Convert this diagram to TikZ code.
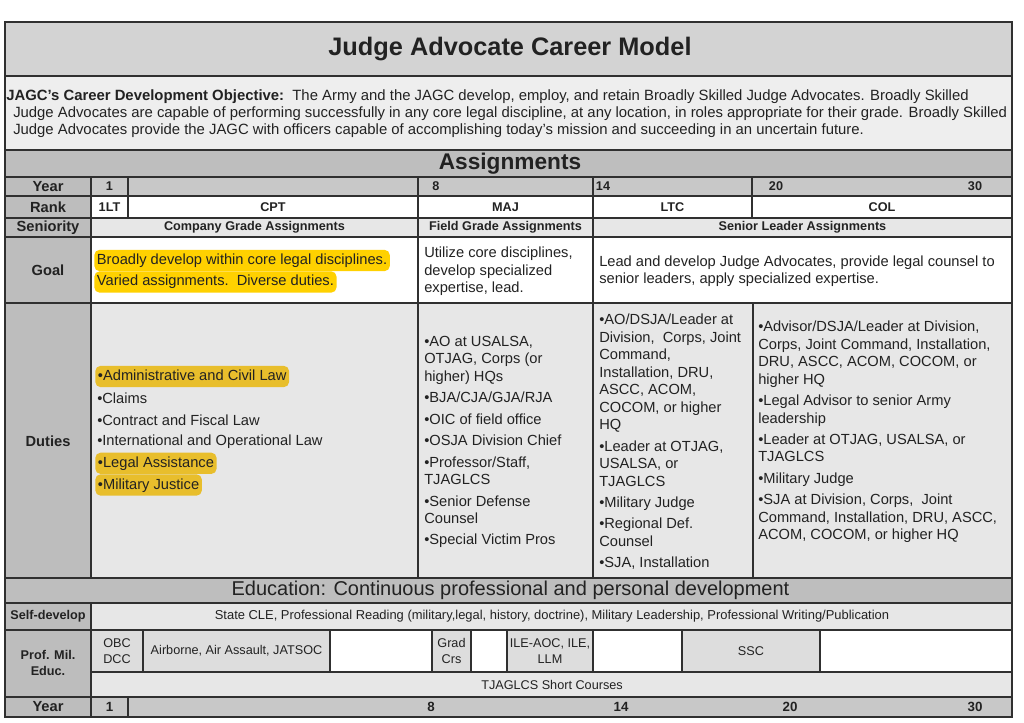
\documentclass[tikz,border=0pt]{standalone}
\usepackage{fontspec}
\setmainfont{Liberation Sans}
\definecolor{lineC}{HTML}{303030}
\definecolor{txtC}{HTML}{222222}
\definecolor{titleC}{HTML}{D3D3D3}
\definecolor{objC}{HTML}{EEEEEE}
\definecolor{bandC}{HTML}{BEBEBE}
\definecolor{labC}{HTML}{BDBDBD}
\definecolor{yrC}{HTML}{C8C8C8}
\definecolor{lightC}{HTML}{E7E7E7}
\definecolor{pmeC}{HTML}{DDDDDD}
\definecolor{hiA}{HTML}{FFD100}
\definecolor{hiB}{HTML}{E8BE2C}
\newcommand{\jcell}[5]{\path[gridline,fill=#5] (#1,#2) rectangle (#3,#4);}
\begin{document}
\begin{tikzpicture}[x=0.75pt,y=-0.75pt,
  gridline/.style={line width=1.4pt,draw=lineC},
  every node/.style={text=txtC,inner sep=0pt},
  lbl/.style={font=\fontsize{11}{13}\selectfont\bfseries},
  small/.style={font=\fontsize{9.5}{11.5}\selectfont\bfseries},
  body/.style={font=\fontsize{11}{13.1}\selectfont},
  bodyL/.style={body,anchor=west,align=left},
  obj/.style={font=\fontsize{11.15}{12.5}\selectfont,anchor=west},
  pme/.style={font=\fontsize{9.5}{11.5}\selectfont,align=center},
  hlA/.style={body,anchor=west,fill=hiA,rounded corners=4pt,inner xsep=2pt,inner ysep=2.5pt,text height=8.5pt,text depth=2.5pt},
  hlB/.style={hlA,fill=hiB}]
\useasboundingbox (0,0) rectangle (1024,723);
% bands
\jcell{5}{22}{1012}{76}{titleC}
\jcell{5}{76}{1012}{150}{objC}
\jcell{5}{150}{1012}{177}{bandC}
% year row
\jcell{5}{177}{91}{196}{labC}
\jcell{91}{177}{128}{196}{yrC}
\jcell{128}{177}{418}{196}{yrC}
\jcell{418}{177}{593}{196}{yrC}
\jcell{593}{177}{752}{196}{yrC}
\jcell{752}{177}{1012}{196}{yrC}
% rank row
\jcell{5}{196}{91}{218}{labC}
\jcell{91}{196}{128}{218}{white}
\jcell{128}{196}{418}{218}{white}
\jcell{418}{196}{593}{218}{white}
\jcell{593}{196}{752}{218}{white}
\jcell{752}{196}{1012}{218}{white}
% seniority
\jcell{5}{218}{91}{237}{labC}
\jcell{91}{218}{418}{237}{lightC}
\jcell{418}{218}{593}{237}{lightC}
\jcell{593}{218}{1012}{237}{lightC}
% goal
\jcell{5}{237}{91}{303}{labC}
\jcell{91}{237}{418}{303}{white}
\jcell{418}{237}{593}{303}{white}
\jcell{593}{237}{1012}{303}{white}
% duties
\jcell{5}{303}{91}{578}{labC}
\jcell{91}{303}{418}{578}{lightC}
\jcell{418}{303}{593}{578}{lightC}
\jcell{593}{303}{753}{578}{lightC}
\jcell{753}{303}{1012}{578}{lightC}
% education
\jcell{5}{578}{1012}{603}{bandC}
\jcell{5}{603}{91}{630}{labC}
\jcell{91}{603}{1012}{630}{lightC}
\jcell{5}{630}{91}{697}{labC}
\jcell{91}{630}{143}{672}{pmeC}
\jcell{143}{630}{330}{672}{pmeC}
\jcell{330}{630}{432}{672}{white}
\jcell{432}{630}{471}{672}{pmeC}
\jcell{471}{630}{507}{672}{white}
\jcell{507}{630}{593}{672}{pmeC}
\jcell{593}{630}{682}{672}{white}
\jcell{682}{630}{820}{672}{pmeC}
\jcell{820}{630}{1012}{672}{white}
\jcell{91}{672}{1012}{697}{lightC}
% bottom year
\jcell{5}{697}{91}{717}{labC}
\jcell{91}{697}{128}{717}{yrC}
\jcell{128}{697}{1012}{717}{yrC}
\draw[line width=1.8pt,draw=lineC] (5,22) rectangle (1012,717);

% title and objective
\node[font=\fontsize{19}{22}\selectfont\bfseries] (title) at (510,49) {Judge Advocate Career Model};
\node[obj] (obj1) at (6,97) {\textbf{JAGC’s Career Development Objective:}\ \ The Army and the JAGC develop, employ, and retain Broadly Skilled Judge Advocates. Broadly Skilled};
\node[obj] (obj2) at (13,114) {Judge Advocates are capable of performing successfully in any core legal discipline, at any location, in roles appropriate for their grade. Broadly Skilled};
\node[obj] (obj3) at (13,131) {Judge Advocates provide the JAGC with officers capable of accomplishing today’s mission and succeeding in an uncertain future.};
\node[font=\fontsize{17}{20}\selectfont\bfseries] (assign) at (510,164) {Assignments};

% year row top
\node[lbl] (yearT) at (48,186.5) {Year};
\node[small] (y1T) at (109.5,186.5) {1};
\node[small] (y8T) at (436,186.5) {8};
\node[small] (y14T) at (603,186.5) {14};
\node[small] (y20T) at (776,186.5) {20};
\node[small] (y30T) at (975,186.5) {30};
% rank
\node[lbl] (rank) at (48,207) {Rank};
\node[small] (r1) at (109.5,207) {1LT};
\node[small] (r2) at (273,207) {CPT};
\node[small] (r3) at (505.5,207) {MAJ};
\node[small] (r4) at (672.5,207) {LTC};
\node[small] (r5) at (882,207) {COL};
% seniority
\node[lbl] (sen) at (48,227.5) {Seniority};
\node[small] (s1) at (254.5,227.5) {Company Grade Assignments};
\node[small] (s2) at (505.5,227.5) {Field Grade Assignments};
\node[small] (s3) at (802.5,227.5) {Senior Leader Assignments};
% goal
\node[lbl] (goal) at (48,270) {Goal};
\node[hlA] (g1a) at (94,260.5) {Broadly develop within core legal disciplines.};
\node[hlA] (g1b) at (94,282) {Varied assignments.\ \ Diverse duties.};
\node[bodyL] (g2) at (424,271.5) {Utilize core disciplines,\\develop specialized\\expertise, lead.};
\node[bodyL] (g3) at (599,271) {Lead and develop Judge Advocates, provide legal counsel to\\senior leaders, apply specialized expertise.};
% duties
\node[lbl] (duties) at (48,441) {Duties};
\node[hlB] (d1a) at (95,376.5) {•Administrative and Civil Law};
\node[bodyL] (d1b) at (97,398.3) {•Claims};
\node[bodyL] (d1c) at (97,420) {•Contract and Fiscal Law};
\node[bodyL] (d1d) at (97,441.7) {•International and Operational Law};
\node[hlB] (d1e) at (95,463.3) {•Legal Assistance};
\node[hlB] (d1f) at (95,485) {•Military Justice};
\node[bodyL] (d2) at (424,442) {•AO at USALSA,\\OTJAG, Corps (or\\higher) HQs\\[3pt]•BJA/CJA/GJA/RJA\\[3pt]•OIC of field office\\[3pt]•OSJA Division Chief\\[3pt]•Professor/Staff,\\TJAGLCS\\[3pt]•Senior Defense\\Counsel\\[3pt]•Special Victim Pros};
\node[bodyL] (d3) at (599,442) {•AO/DSJA/Leader at\\Division,\ \ Corps, Joint\\Command,\\Installation, DRU,\\ASCC, ACOM,\\COCOM, or higher\\HQ\\[3pt]•Leader at OTJAG,\\USALSA, or\\TJAGLCS\\[3pt]•Military Judge\\[3pt]•Regional Def.\\Counsel\\[3pt]•SJA, Installation};
\node[bodyL] (d4) at (758,432) {•Advisor/DSJA/Leader at Division,\\Corps, Joint Command, Installation,\\DRU, ASCC, ACOM, COCOM, or\\higher HQ\\[3pt]•Legal Advisor to senior Army\\leadership\\[3pt]•Leader at OTJAG, USALSA, or\\TJAGLCS\\[3pt]•Military Judge\\[3pt]•SJA at Division, Corps,\ \ Joint\\Command, Installation, DRU, ASCC,\\ACOM, COCOM, or higher HQ};
% education
\node[font=\fontsize{15}{17}\selectfont] (edu) at (510.5,590.5) {Education: Continuous professional and personal development};
\node[small] (selfL) at (48,616.5) {Self-develop};
\node[font=\fontsize{9.7}{11}\selectfont] (selfT) at (552,616.5) {State CLE, Professional Reading (military,legal, history, doctrine), Military Leadership, Professional Writing/Publication};
\node[small,align=center] (pmeL) at (48,663) {Prof. Mil.\\Educ.};
\node[pme] (p1) at (117,651) {OBC\\DCC};
\node[pme] (p2) at (236.5,651) {Airborne, Air Assault, JATSOC};
\node[pme] (p3) at (451.5,651) {Grad\\Crs};
\node[pme] (p4) at (550,651) {ILE-AOC, ILE,\\LLM};
\node[pme] (p5) at (751,651) {SSC};
\node[pme] (p6) at (552,684.5) {TJAGLCS Short Courses};
% bottom year
\node[lbl] (yearB) at (48,707) {Year};
\node[small,font=\fontsize{10}{12}\selectfont\bfseries] (y1B) at (109.5,707) {1};
\node[small,font=\fontsize{10}{12}\selectfont\bfseries] (y8B) at (431,707) {8};
\node[small,font=\fontsize{10}{12}\selectfont\bfseries] (y14B) at (621,707) {14};
\node[small,font=\fontsize{10}{12}\selectfont\bfseries] (y20B) at (790,707) {20};
\node[small,font=\fontsize{10}{12}\selectfont\bfseries] (y30B) at (975,707) {30};
\end{tikzpicture}
\end{document}
